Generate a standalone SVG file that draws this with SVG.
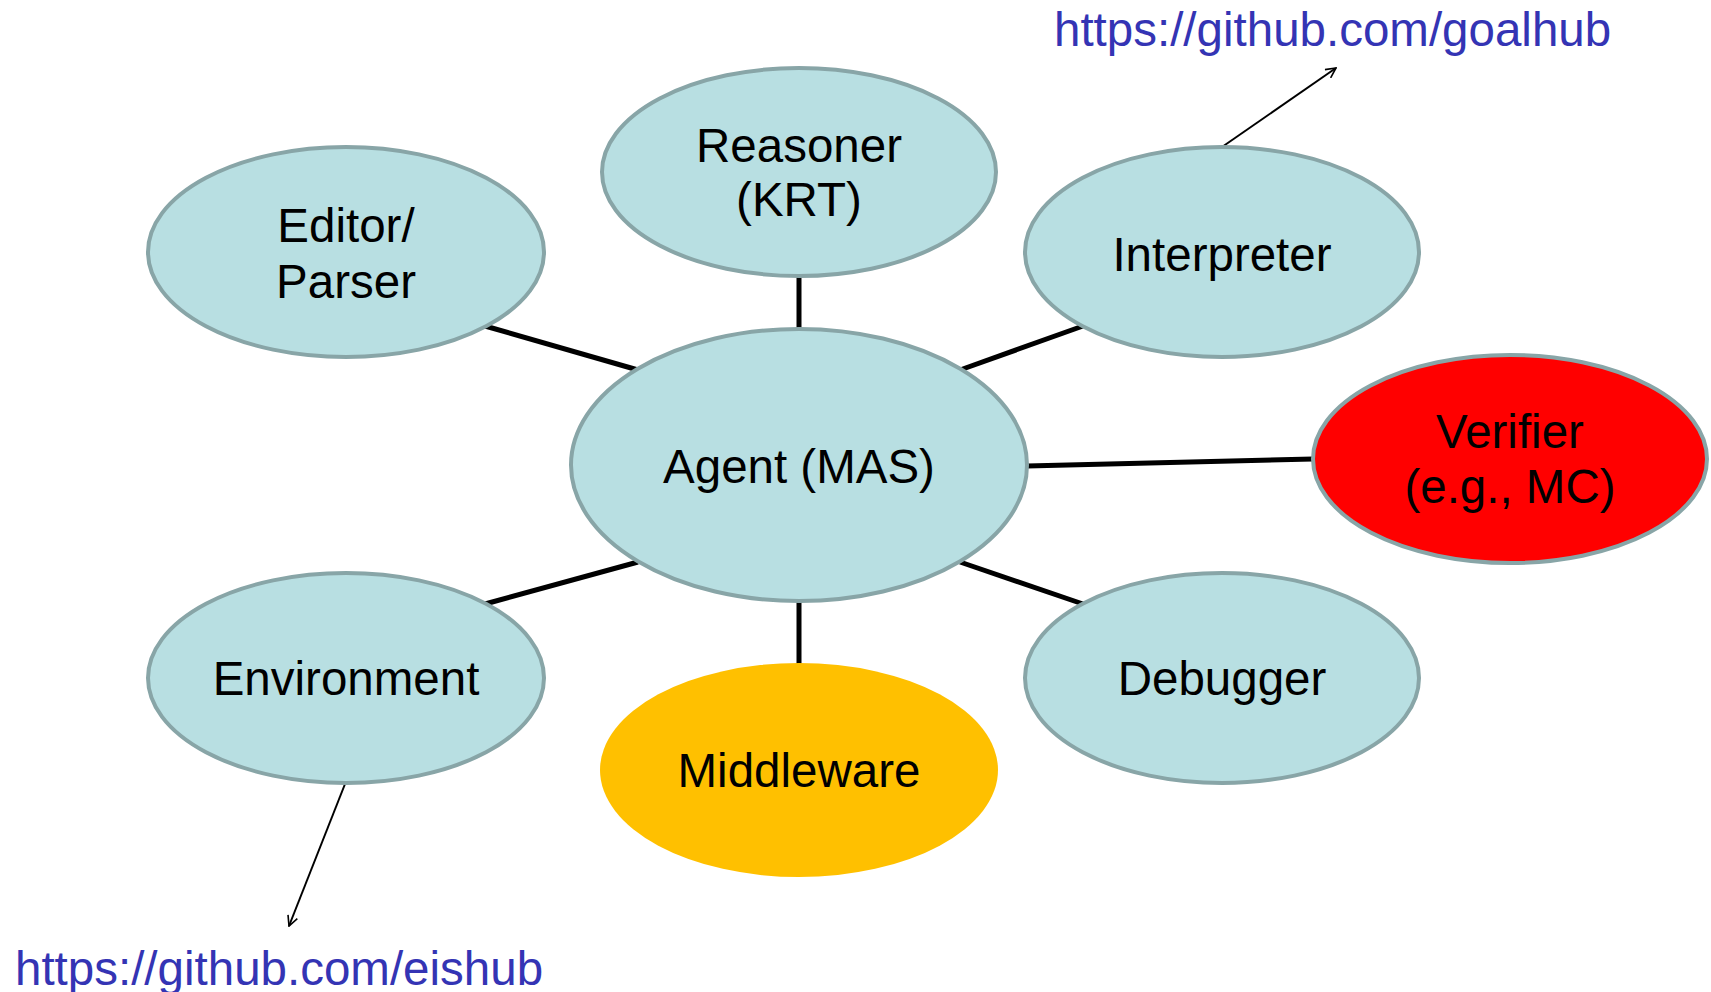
<svg xmlns="http://www.w3.org/2000/svg" width="1711" height="992" viewBox="0 0 1711 992">
  <style>
    .node { fill: #b8dfe2; stroke: #88a5a7; stroke-width: 4; }
    .verifier { fill: #ff0000; stroke: #88a5a7; stroke-width: 4; }
    .middleware { fill: #ffc000; stroke: none; }
    .label { font-family: "Liberation Sans", Arial, sans-serif; font-size: 47.5px; fill: #000; text-anchor: middle; }
    .url { font-family: "Liberation Sans", Arial, sans-serif; font-size: 47.5px; fill: #3434b4; }
    .edge { stroke: #000; stroke-width: 5; fill: none; }
    .link { stroke: #000; stroke-width: 2; fill: none; marker-end: url(#open-arrow); }
  </style>
  <defs>
    <marker id="open-arrow" viewBox="0 0 12 12" refX="11" refY="6" markerWidth="12" markerHeight="12" markerUnits="userSpaceOnUse" orient="auto">
      <path d="M1,1 L11,6 L1,11" fill="none" stroke="#000" stroke-width="1.6"/>
    </marker>
  </defs>
  <rect width="1711" height="992" fill="#ffffff"/>

  <!-- connectors -->
  <g id="connectors">
    <line class="edge" x1="799" y1="276" x2="799" y2="330"/>
    <line class="edge" x1="485" y1="326" x2="638" y2="370"/>
    <line class="edge" x1="1083" y1="326" x2="960" y2="370"/>
    <line class="edge" x1="1027" y1="466" x2="1313" y2="459"/>
    <line class="edge" x1="485" y1="604" x2="638" y2="562"/>
    <line class="edge" x1="1083" y1="604" x2="960" y2="562"/>
    <line class="edge" x1="799" y1="601" x2="799" y2="664"/>
    <line class="link" x1="1222" y1="147" x2="1336" y2="68"/>
    <line class="link" x1="345" y1="784" x2="289" y2="926"/>
  </g>

  <g id="reasoner">
    <ellipse class="node" cx="799" cy="172" rx="197" ry="104"/>
    <text class="label" x="799" y="162">Reasoner</text>
    <text class="label" x="799" y="216">(KRT)</text>
  </g>

  <g id="editor-parser">
    <ellipse class="node" cx="346" cy="252" rx="198" ry="105"/>
    <text class="label" x="346" y="242">Editor/</text>
    <text class="label" x="346" y="298">Parser</text>
  </g>

  <g id="interpreter">
    <ellipse class="node" cx="1222" cy="252" rx="197" ry="105"/>
    <text class="label" x="1222" y="271">Interpreter</text>
  </g>

  <g id="verifier">
    <ellipse class="verifier" cx="1510" cy="459" rx="197" ry="104"/>
    <text class="label" x="1510" y="448">Verifier</text>
    <text class="label" x="1510" y="503">(e.g., MC)</text>
  </g>

  <g id="agent">
    <ellipse class="node" cx="799" cy="465" rx="228" ry="136"/>
    <text class="label" x="799" y="483">Agent (MAS)</text>
  </g>

  <g id="environment">
    <ellipse class="node" cx="346" cy="678" rx="198" ry="105"/>
    <text class="label" x="346" y="695">Environment</text>
  </g>

  <g id="debugger">
    <ellipse class="node" cx="1222" cy="678" rx="197" ry="105"/>
    <text class="label" x="1222" y="695">Debugger</text>
  </g>

  <g id="middleware">
    <ellipse class="middleware" cx="799" cy="770" rx="199" ry="107"/>
    <text class="label" x="799" y="787">Middleware</text>
  </g>

  <g id="url-goalhub">
    <text class="url" x="1054" y="46">https://github.com/goalhub</text>
  </g>

  <g id="url-eishub">
    <text class="url" x="15" y="985">https://github.com/eishub</text>
  </g>
</svg>
